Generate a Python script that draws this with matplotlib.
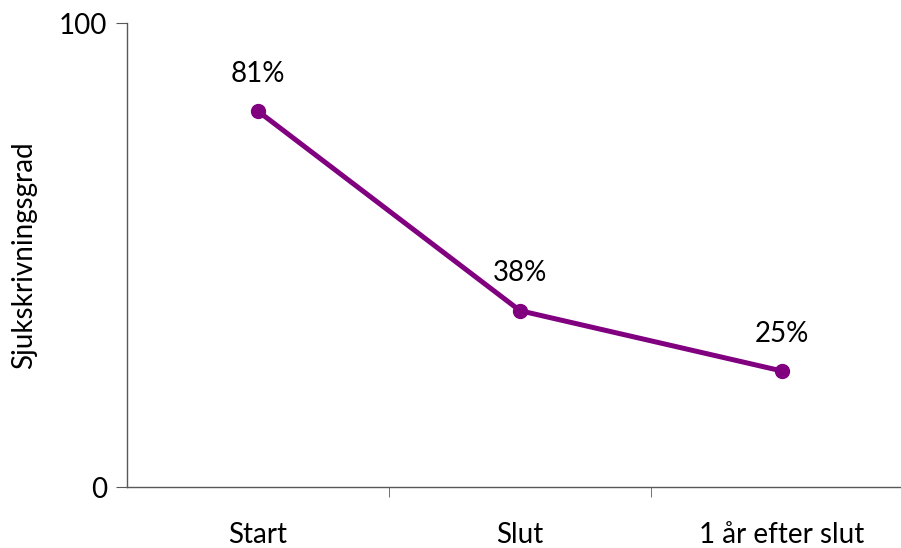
import matplotlib.pyplot as plt

# data
categories = ['Start', 'Slut', '1 år efter slut']
values = [81, 38, 25]
labels = ['81%', '38%', '25%']

plt.rcParams['font.family'] = ['Lato', 'DejaVu Sans']

fig = plt.figure(figsize=(9.01, 5.48), dpi=100)
W, H = 901, 548
ax = fig.add_axes([127 / W, 1 - 487 / H, 786 / W, 464 / H])

x = list(range(len(categories)))
ax.plot(x, values, color='#800080', linewidth=3.6, marker='o', markersize=10, zorder=3)

for xi, v, lab in zip(x, values, labels):
    ax.annotate(lab, (xi, v), xytext=(0, 27), textcoords='offset points',
                ha='center', va='center', fontsize=20)

ax.set_xlim(-0.5, len(categories) - 0.5)
ax.set_ylim(0, 100)
ax.set_yticks([0, 100])
ax.set_yticklabels(['0', '100'], fontsize=20)

ax.set_xticks(x)
ax.set_xticklabels(categories, fontsize=20)
ax.set_xticks([i + 0.5 for i in x], minor=True)
ax.tick_params(axis='x', which='major', length=0, pad=25)
ax.tick_params(axis='x', which='minor', length=7, direction='out', color='#595959')
ax.tick_params(axis='y', length=8, direction='out', color='#595959', pad=6)

ax.set_ylabel('Sjukskrivningsgrad', fontsize=20, labelpad=16)

for s in ['top', 'right']:
    ax.spines[s].set_visible(False)
for s in ['left', 'bottom']:
    ax.spines[s].set_color('#595959')
    ax.spines[s].set_linewidth(1.0)

fig.savefig('out.png', dpi=100)
